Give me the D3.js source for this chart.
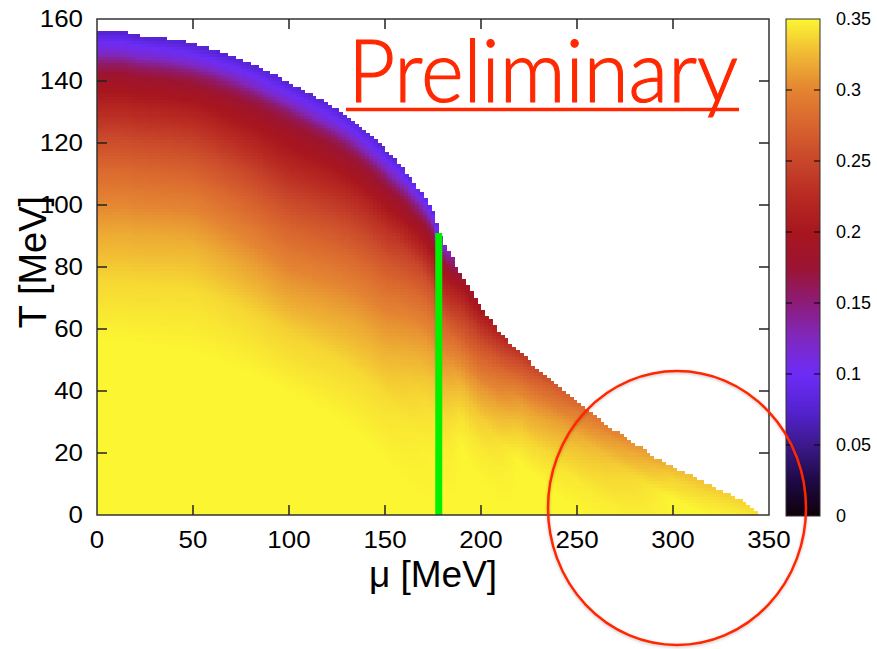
<!DOCTYPE html>
<html>
<head>
<meta charset="utf-8">
<script src="https://cdn.jsdelivr.net/npm/d3@7"></script>
<style>
  html, body { margin: 0; padding: 0; background: #ffffff; }
  svg { display: block; }
</style>
</head>
<body>
<svg id="chart" width="877" height="649"></svg>
<script>
// ---------------- DATA ----------------
// Upper edge of the coloured region: T_c (MeV) at given mu (MeV)
const boundaryMu = [0, 10, 16, 20, 30, 40, 50, 60, 70, 80, 90, 100, 110, 120, 130, 140, 150, 160, 170, 175, 178, 180, 185, 190, 195, 200, 210, 220, 230, 240, 250, 260, 270, 280, 290, 300, 310, 320, 330, 340, 344];
const boundaryT  = [155.8, 155.8, 155.5, 154.7, 154, 153.2, 152, 150.2, 148, 145.5, 142.5, 139.3, 136, 132.6, 128.8, 124, 118, 111, 103, 97.5, 92, 88.5, 82.5, 77, 71.5, 66.5, 58.5, 52.3, 46.8, 41.5, 36, 31.5, 27, 22.8, 18.8, 15.3, 12.2, 9.3, 6.3, 2.8, 1];

// Colour value read along columns of mu, as a function of depth below the edge (MeV)
const profileDepth = [0, 3, 6, 10, 15, 25, 35, 45, 55, 65, 80, 100];
const profileMu = [0, 50, 100, 150, 178, 190, 220, 250, 300, 345];
const profile_mu0   = [0.075, 0.098, 0.115, 0.155, 0.185, 0.222, 0.255, 0.280, 0.300, 0.318, 0.337, 0.350];
const profile_mu50  = [0.075, 0.098, 0.118, 0.158, 0.187, 0.226, 0.257, 0.282, 0.303, 0.322, 0.340, 0.350];
const profile_mu100 = [0.078, 0.100, 0.120, 0.160, 0.185, 0.215, 0.245, 0.270, 0.292, 0.310, 0.335, 0.350];
const profile_mu150 = [0.080, 0.100, 0.125, 0.165, 0.188, 0.230, 0.260, 0.285, 0.305, 0.322, 0.340, 0.350];
const profile_mu178 = [0.090, 0.125, 0.165, 0.190, 0.215, 0.265, 0.295, 0.318, 0.335, 0.345, 0.350, 0.350];
const profile_mu190 = [0.180, 0.198, 0.215, 0.235, 0.255, 0.295, 0.325, 0.342, 0.350, 0.350, 0.350, 0.350];
const profile_mu220 = [0.235, 0.255, 0.270, 0.290, 0.310, 0.335, 0.350, 0.350, 0.350, 0.350, 0.350, 0.350];
const profile_mu250 = [0.280, 0.295, 0.305, 0.320, 0.330, 0.345, 0.350, 0.350, 0.350, 0.350, 0.350, 0.350];
const profile_mu300 = [0.325, 0.335, 0.340, 0.350, 0.350, 0.350, 0.350, 0.350, 0.350, 0.350, 0.350, 0.350];
const profile_mu345 = [0.340, 0.345, 0.350, 0.350, 0.350, 0.350, 0.350, 0.350, 0.350, 0.350, 0.350, 0.350];
const profiles = [profile_mu0, profile_mu50, profile_mu100, profile_mu150, profile_mu178, profile_mu190, profile_mu220, profile_mu250, profile_mu300, profile_mu345];

// Colour bar colours
const cbStopValues = [0, 0.025, 0.05, 0.075, 0.1, 0.125, 0.15, 0.175, 0.2, 0.225, 0.25, 0.275, 0.3, 0.325, 0.35];
const cbStopColors = ["#10000a", "#1e0a46", "#3c198c", "#5523d2", "#6c2cf6", "#8028c0", "#8c1c78", "#9c1432", "#a8161e", "#b82a22", "#c8462a", "#d8642e", "#e48432", "#f0b834", "#fcf632"];

// Green vertical marker
const markerMu = [178, 178];
const markerT  = [0, 91];

// Axis ticks
const xTicks = [0, 50, 100, 150, 200, 250, 300, 350];
const yTicks = [0, 20, 40, 60, 80, 100, 120, 140, 160];
const cbTicks = [0, 0.05, 0.1, 0.15, 0.2, 0.25, 0.3, 0.35];
const cbTickLabels = ["0", "0.05", "0.1", "0.15", "0.2", "0.25", "0.3", "0.35"];

const xTitle = "\u03bc [MeV]";
const yTitle = "T [MeV]";
const stamp = "Preliminary";

// ---------------- LAYOUT ----------------
const W = 877, H = 649;
const plot = { left: 97, right: 769, top: 19, bottom: 515 };
const cbar = { left: 786, right: 820, top: 19, bottom: 516 };

const svg = d3.select("#chart");

const x = d3.scaleLinear().domain([0, 350]).range([plot.left, plot.right]);
const y = d3.scaleLinear().domain([0, 160]).range([plot.bottom, plot.top]);
const zMax = 0.35;

const color = d3.scaleLinear().domain(cbStopValues).range(cbStopColors)
  .interpolate(d3.interpolateRgb).clamp(true);

// Edge lookup and value lookup
const edge = d3.scaleLinear().domain(boundaryMu).range(boundaryT).clamp(true);
const depthScales = profiles.map(p => d3.scaleLinear().domain(profileDepth).range(p).clamp(true));
function valueAt(mu, T) {
  const d = edge(mu) - T;
  let i = d3.bisectRight(profileMu, mu) - 1;
  i = Math.max(0, Math.min(profileMu.length - 2, i));
  const f = Math.max(0, Math.min(1, (mu - profileMu[i]) / (profileMu[i + 1] - profileMu[i])));
  return depthScales[i](d) * (1 - f) + depthScales[i + 1](d) * f;
}

// ---------------- HEATMAP (canvas -> svg image) ----------------
const canvas = document.createElement("canvas");
canvas.width = W; canvas.height = H;
const ctx = canvas.getContext("2d");
const dMu = 2, dT = 1;
for (let m = 0; m < 350; m += dMu) {
  const mc = m + dMu / 2;
  const tc = edge(mc);
  if (mc > boundaryMu[boundaryMu.length - 1]) break;
  for (let t = 0; t < 160; t += dT) {
    const Tc = t + dT / 2;
    if (Tc > tc) break;
    ctx.fillStyle = color(valueAt(mc, Tc));
    const x0 = x(m), x1 = x(m + dMu), y0 = y(t + dT), y1 = y(t);
    ctx.fillRect(Math.floor(x0), Math.floor(y0), Math.ceil(x1) - Math.floor(x0), Math.ceil(y1) - Math.floor(y0));
  }
}
svg.append("image")
  .attr("x", 0).attr("y", 0).attr("width", W).attr("height", H)
  .attr("href", canvas.toDataURL());

// Green marker
svg.append("line")
  .attr("x1", x(markerMu[0])).attr("x2", x(markerMu[1]))
  .attr("y1", y(markerT[0])).attr("y2", y(markerT[1]))
  .attr("stroke", "#00f000").attr("stroke-width", 7);

// ---------------- AXES ----------------
const axisColor = "#222";
const tickLen = 10;
const g = svg.append("g");
g.append("rect")
  .attr("x", plot.left).attr("y", plot.top)
  .attr("width", plot.right - plot.left).attr("height", plot.bottom - plot.top)
  .attr("fill", "none").attr("stroke", "#333").attr("stroke-width", 1.5);

xTicks.forEach(v => {
  if (v === 0 || v === 350) return;
  g.append("line").attr("x1", x(v)).attr("x2", x(v)).attr("y1", plot.bottom).attr("y2", plot.bottom - tickLen).attr("stroke", axisColor).attr("stroke-width", 1.5);
  g.append("line").attr("x1", x(v)).attr("x2", x(v)).attr("y1", plot.top).attr("y2", plot.top + tickLen).attr("stroke", axisColor).attr("stroke-width", 1.5);
});
yTicks.forEach(v => {
  if (v === 0 || v === 160) return;
  g.append("line").attr("y1", y(v)).attr("y2", y(v)).attr("x1", plot.left).attr("x2", plot.left + tickLen).attr("stroke", axisColor).attr("stroke-width", 1.5);
  g.append("line").attr("y1", y(v)).attr("y2", y(v)).attr("x1", plot.right).attr("x2", plot.right - tickLen).attr("stroke", axisColor).attr("stroke-width", 1.5);
});

const labelFont = "'Liberation Sans', Arial, Helvetica, sans-serif";
g.selectAll("text.xt").data(xTicks).enter().append("text")
  .attr("x", d => x(d)).attr("y", 548)
  .attr("text-anchor", "middle")
  .attr("font-family", labelFont).attr("font-size", 24).attr("fill", "#000")
  .attr("transform", d => `translate(${x(d)},0) scale(1.08,1) translate(${-x(d)},0)`)
  .text(d => d);
g.selectAll("text.yt").data(yTicks).enter().append("text")
  .attr("x", 83).attr("y", d => y(d) + 8.5)
  .attr("text-anchor", "end")
  .attr("font-family", labelFont).attr("font-size", 24).attr("fill", "#000")
  .attr("transform", "translate(83,0) scale(1.08,1) translate(-83,0)")
  .text(d => d);

svg.append("text")
  .attr("x", 433).attr("y", 587)
  .attr("text-anchor", "middle")
  .attr("font-family", labelFont).attr("font-size", 37).attr("fill", "#000")
  .text(xTitle);
svg.append("text")
  .attr("transform", "translate(46,262) rotate(-90)")
  .attr("text-anchor", "middle")
  .attr("font-family", labelFont).attr("font-size", 38).attr("fill", "#000")
  .text(yTitle);

// ---------------- COLOUR BAR ----------------
const cy = d3.scaleLinear().domain([0, zMax]).range([cbar.bottom, cbar.top]);
const defs = svg.append("defs");
const grad = defs.append("linearGradient").attr("id", "cbgrad")
  .attr("x1", 0).attr("y1", 1).attr("x2", 0).attr("y2", 0);
cbStopValues.forEach((v, i) => {
  grad.append("stop").attr("offset", v / zMax).attr("stop-color", cbStopColors[i]);
});
svg.append("rect")
  .attr("x", cbar.left).attr("y", cbar.top)
  .attr("width", cbar.right - cbar.left).attr("height", cbar.bottom - cbar.top)
  .attr("fill", "url(#cbgrad)").attr("stroke", "#333").attr("stroke-width", 1);
cbTicks.forEach(v => {
  if (v === 0 || v === zMax) return;
  svg.append("line").attr("x1", cbar.left).attr("x2", cbar.left + 6).attr("y1", cy(v)).attr("y2", cy(v)).attr("stroke", "#000").attr("stroke-width", 1);
  svg.append("line").attr("x1", cbar.right).attr("x2", cbar.right - 6).attr("y1", cy(v)).attr("y2", cy(v)).attr("stroke", "#000").attr("stroke-width", 1);
});
svg.selectAll("text.cb").data(cbTicks).enter().append("text")
  .attr("x", 836).attr("y", (d) => cy(d) + 6)
  .attr("font-family", labelFont).attr("font-size", 18).attr("fill", "#000")
  .text((d, i) => cbTickLabels[i]);

// ---------------- ANNOTATIONS ----------------
const red = "#ff2800";
const flt = defs.append("filter").attr("id", "shadow").attr("x", "-10%").attr("y", "-10%").attr("width", "120%").attr("height", "120%");
flt.append("feDropShadow").attr("dx", 0).attr("dy", 1).attr("stdDeviation", 1.5).attr("flood-color", "#000").attr("flood-opacity", 0.25);
svg.append("ellipse")
  .attr("cx", 677).attr("cy", 508).attr("rx", 129).attr("ry", 137)
  .attr("fill", "none").attr("stroke", red).attr("stroke-width", 2.5)
  .attr("filter", "url(#shadow)");

svg.append("text")
  .attr("x", 348).attr("y", 102)
  .attr("font-family", "Lato, 'Open Sans', sans-serif").attr("font-size", 86)
  .attr("font-weight", 300)
  .attr("textLength", 390).attr("lengthAdjust", "spacingAndGlyphs")
  .attr("fill", red).attr("stroke", red).attr("stroke-width", 1.2)
  .text(stamp);
svg.append("line")
  .attr("x1", 346).attr("x2", 739).attr("y1", 109.5).attr("y2", 109.5)
  .attr("stroke", red).attr("stroke-width", 3.5);
</script>
</body>
</html>
